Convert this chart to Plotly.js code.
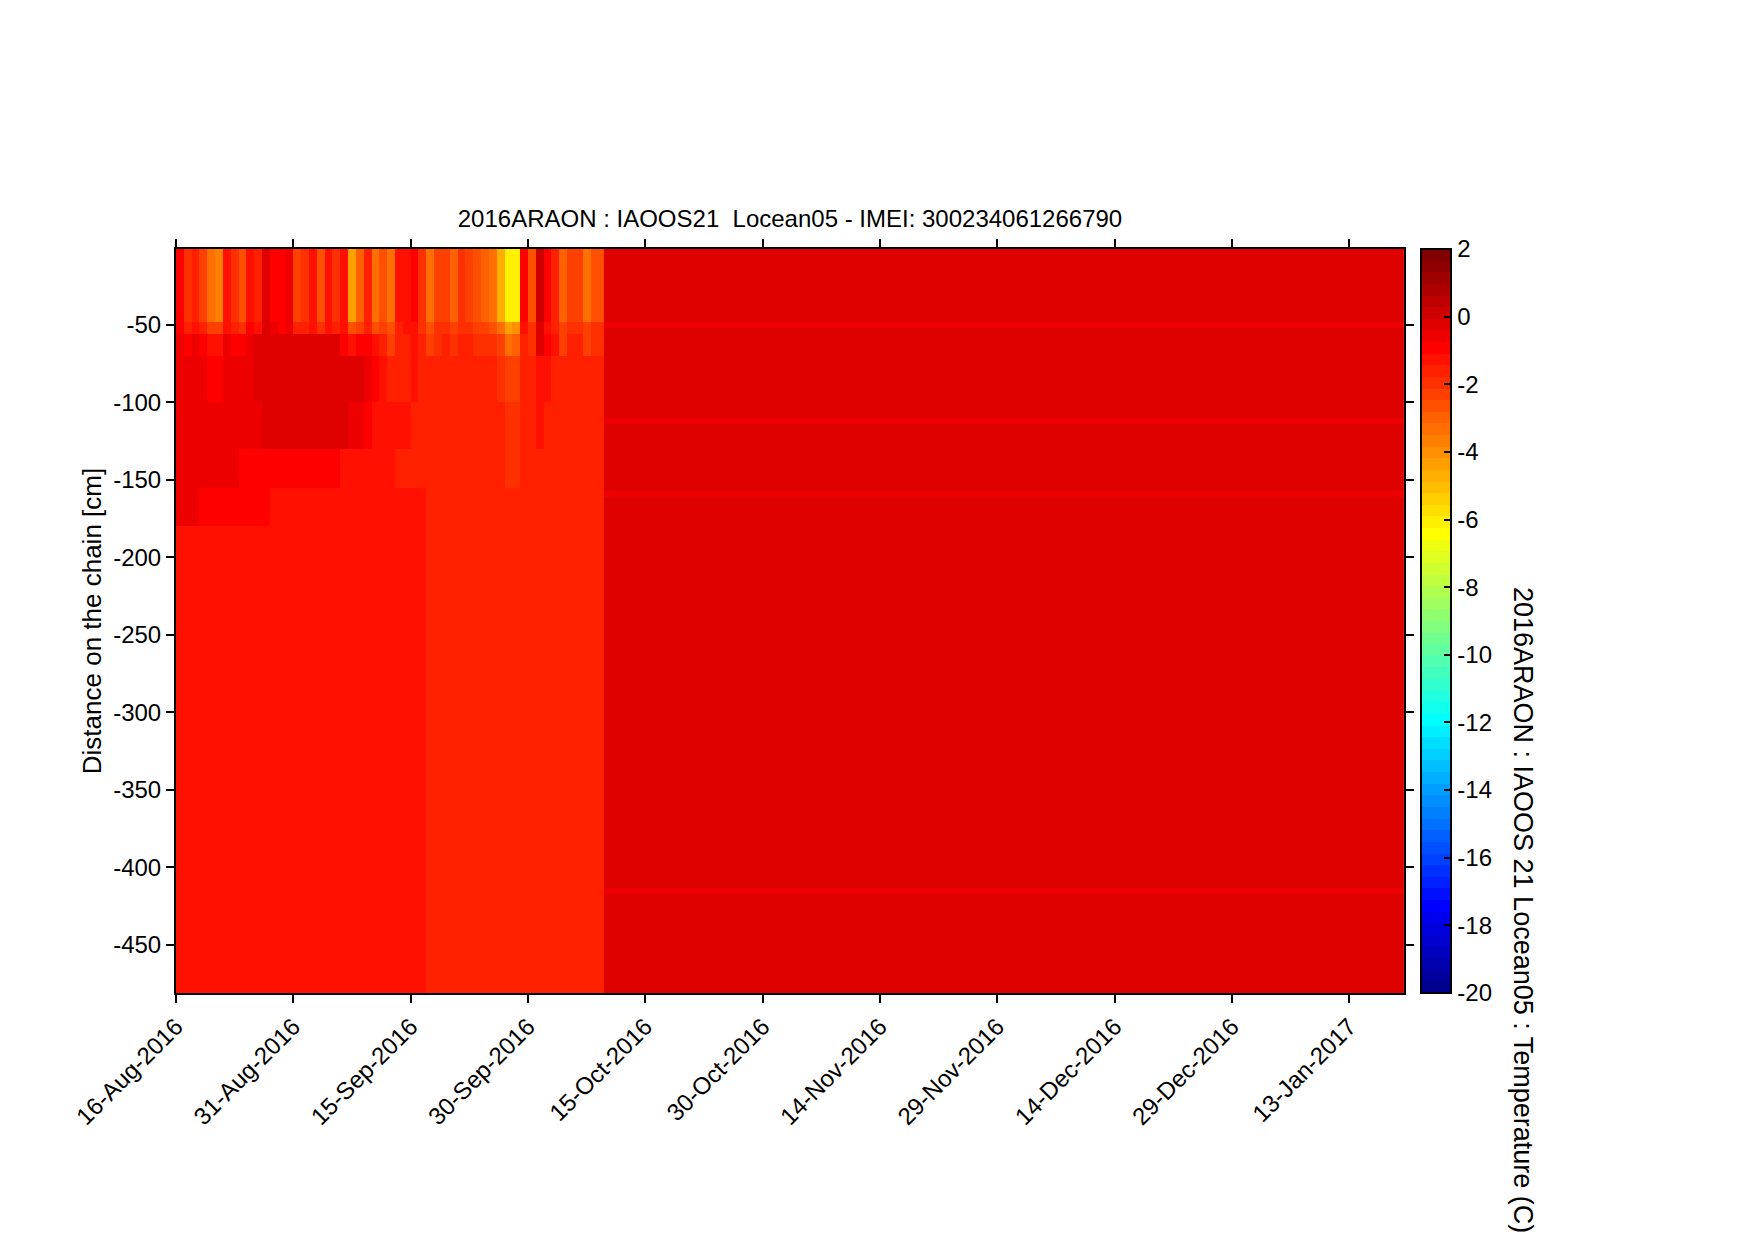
<!DOCTYPE html>
<html>
<head>
<meta charset="utf-8">
<script src="https://cdn.plot.ly/plotly-3.0.1.min.js"></script>
<style>html,body{margin:0;padding:0;background:#fff;}</style>
</head>
<body>
<div id="chart" style="width:1756px;height:1243px;"></div>
<script>
// ---------- DATA (temperatures in °C) ----------
// Daily columns from 16-Aug-2016 (day 0) to 9-Oct-2016 (day 54, partial)
const firstDay = '2016-08-16';
const lastDataEnd = '2016-10-09 17:00';
const lateEnd = '2017-01-20';

// depth layer edges (cm), bottom to top
const depthEdges = [-481, -180, -155, -130, -100, -70, -56, -48, -1];

// layer -1 .. -48 cm (surface stripes)
const surface = [-1.0, -2.0, -1.5, -2.2, -3.3, -3.6, -1.3, -2.0, -2.8, -1.2,
  -1.5, -0.3, -0.8, -1.0, -0.5, -2.2, -2.0, -1.4, -2.8, -1.3,
  -1.8, -1.4, -4.2, -3.0, -1.6, -3.5, -2.6, -3.5, -1.4, -1.2,
  -1.0, -1.8, -3.3, -2.2, -2.3, -3.0, -2.0, -2.2, -2.8, -3.0,
  -3.3, -4.6, -6.2, -6.0, -1.0, -2.5, 0.0, -1.0, -1.6, -3.0,
  -2.3, -2.4, -3.2, -2.6, -2.5];
// layer -48 .. -56 cm
const t52 = [-1.0, -1.6, -1.3, -1.7, -2.3, -2.4, -1.1, -1.6, -2.0, -1.0,
  -1.2, -0.3, -0.6, -0.8, -0.5, -1.7, -1.6, -1.3, -2.0, -1.3,
  -1.6, -1.4, -2.8, -2.3, -1.6, -2.6, -2.2, -2.6, -1.5, -1.4,
  -1.3, -1.8, -2.5, -2.0, -2.0, -2.4, -1.9, -2.0, -2.3, -2.4,
  -2.5, -3.3, -4.5, -4.0, -1.2, -2.0, -0.3, -1.1, -1.6, -2.3,
  -2.0, -2.0, -2.4, -2.1, -2.0];
// layer -56 .. -70 cm
const t60 = [-0.7, -1.0, -0.7, -1.0, -1.3, -1.2, -0.6, -0.9, -1.0, -0.6,
  -0.4, -0.1, -0.2, -0.3, -0.2, -0.3, -0.3, -0.3, -0.4, -0.3,
  -0.4, -0.8, -1.2, -1.0, -0.9, -1.4, -1.7, -2.3, -1.6, -1.5,
  -1.4, -1.6, -2.3, -1.8, -1.7, -1.9, -1.7, -1.7, -1.9, -1.9,
  -2.0, -2.4, -3.2, -3.0, -1.6, -1.8, -0.4, -0.8, -1.4, -2.2,
  -1.7, -1.7, -2.2, -1.9, -1.8];
// layer -70 .. -100 cm
const t85 = [-0.6, -0.7, -0.6, -0.7, -0.8, -0.8, -0.6, -0.6, -0.6, -0.5,
  -0.2, -0.2, -0.1, -0.2, -0.2, -0.2, -0.2, -0.3, -0.3, -0.3,
  -0.3, -0.35, -0.35, -0.35, -0.6, -0.9, -1.3, -1.6, -1.5, -1.5,
  -1.4, -1.5, -1.7, -1.6, -1.6, -1.7, -1.6, -1.6, -1.7, -1.7,
  -1.7, -1.9, -2.4, -2.2, -1.6, -1.6, -1.2, -1.3, -1.5, -1.7,
  -1.6, -1.6, -1.7, -1.6, -1.6];
// layer -100 .. -130 cm
const t115 = [-0.6, -0.6, -0.6, -0.6, -0.7, -0.7, -0.6, -0.6, -0.6, -0.5,
  -0.5, -0.35, -0.35, -0.35, -0.35, -0.35, -0.35, -0.35, -0.35, -0.35,
  -0.35, -0.35, -0.5, -0.7, -0.9, -1.1, -1.2, -1.3, -1.3, -1.3,
  -1.5, -1.5, -1.6, -1.5, -1.5, -1.6, -1.5, -1.5, -1.6, -1.6,
  -1.6, -1.7, -2.0, -1.9, -1.6, -1.6, -1.4, -1.5, -1.5, -1.6,
  -1.6, -1.5, -1.6, -1.6, -1.5];
// layer -130 .. -155 cm
const t140 = [-0.6, -0.6, -0.6, -0.6, -0.7, -0.7, -0.7, -0.7, -0.8, -0.8,
  -0.8, -0.8, -0.8, -0.8, -0.9, -0.9, -0.9, -0.9, -1.0, -1.0,
  -1.0, -1.1, -1.1, -1.2, -1.3, -1.3, -1.4, -1.4, -1.5, -1.5,
  -1.5, -1.5, -1.6, -1.5, -1.5, -1.6, -1.5, -1.5, -1.6, -1.6,
  -1.6, -1.6, -1.8, -1.8, -1.6, -1.6, -1.5, -1.5, -1.5, -1.6,
  -1.6, -1.5, -1.6, -1.6, -1.5];
// layer -155 .. -180 cm
const t170 = [-0.6, -0.7, -0.7, -0.8, -0.9, -0.9, -0.9, -1.0, -1.0, -1.0,
  -1.0, -1.0, -1.1, -1.1, -1.2, -1.2, -1.2, -1.2, -1.2, -1.2,
  -1.2, -1.2, -1.2, -1.2, -1.2, -1.2, -1.3, -1.3, -1.3, -1.4,
  -1.4, -1.4, -1.6, -1.6, -1.6, -1.6, -1.6, -1.6, -1.6, -1.6,
  -1.6, -1.6, -1.7, -1.7, -1.6, -1.6, -1.6, -1.6, -1.6, -1.6,
  -1.6, -1.6, -1.6, -1.6, -1.6];
// layer -180 .. -481 cm
const deep = [-1.2, -1.2, -1.2, -1.2, -1.2, -1.2, -1.2, -1.2, -1.2, -1.2,
  -1.2, -1.2, -1.2, -1.2, -1.2, -1.2, -1.2, -1.2, -1.2, -1.2,
  -1.2, -1.2, -1.2, -1.2, -1.2, -1.2, -1.3, -1.3, -1.3, -1.3,
  -1.3, -1.3, -1.6, -1.6, -1.6, -1.6, -1.6, -1.6, -1.6, -1.6,
  -1.6, -1.6, -1.6, -1.6, -1.6, -1.6, -1.6, -1.6, -1.6, -1.6,
  -1.6, -1.6, -1.6, -1.6, -1.6];

// late period (9-Oct-2016 onwards): uniform with a few thin sensor lines
const lateDepthEdges = [-481, -417, -413, -161, -157, -114, -110, -52, -48, -1];
const lateValues = [-0.25, -0.6, -0.25, -0.6, -0.25, -0.6, -0.25, -0.6, -0.25];

// axis ticks
const xTickVals = ['2016-08-16','2016-08-31','2016-09-15','2016-09-30','2016-10-15','2016-10-30',
  '2016-11-14','2016-11-29','2016-12-14','2016-12-29','2017-01-13'];
const xTickText = ['16-Aug-2016','31-Aug-2016','15-Sep-2016','30-Sep-2016','15-Oct-2016','30-Oct-2016',
  '14-Nov-2016','29-Nov-2016','14-Dec-2016','29-Dec-2016','13-Jan-2017'];
const yTickVals = [-50, -100, -150, -200, -250, -300, -350, -400, -450];
const yTickText = ['-50', '-100', '-150', '-200', '-250', '-300', '-350', '-400', '-450'];
const cbTickVals = [-20, -18, -16, -14, -12, -10, -8, -6, -4, -2, 0, 2];
const cbTickText = ['-20', '-18', '-16', '-14', '-12', '-10', '-8', '-6', '-4', '-2', '0', '2'];

const titleText = '2016ARAON : IAOOS21  Locean05 - IMEI: 300234061266790';
const yTitleText = 'Distance on the chain [cm]';
const cbTitleText = '2016ARAON : IAOOS 21 Locean05 : Temperature (C)';

// ---------- build ----------
// daily column edges
const xEdges = [];
const base = new Date(firstDay + 'T00:00:00Z');
for (let d = 0; d < surface.length; d++) {
  const dt = new Date(base.getTime() + d * 86400000);
  xEdges.push(dt.toISOString().slice(0, 10));
}
xEdges.push(lastDataEnd);

const zEarly = [deep, t170, t140, t115, t85, t60, t52, surface];
const zLate = lateValues.map(v => [v]);

// MATLAB-style jet(64), discrete
function jetScale() {
  const m = 16, u = [];
  for (let j = 1; j <= m; j++) u.push(j / m);
  for (let j = 0; j < m - 1; j++) u.push(1);
  for (let j = m; j >= 1; j--) u.push(j / m);
  const get = k => (k >= 1 && k <= u.length) ? u[k - 1] : 0;
  const cs = [];
  for (let i = 1; i <= 64; i++) {
    const r = Math.round(255 * get(i - 24));
    const g = Math.round(255 * get(i - 8));
    const b = Math.round(255 * get(i + 8));
    const c = 'rgb(' + r + ',' + g + ',' + b + ')';
    cs.push([(i - 1) / 64, c]);
    cs.push([i / 64, c]);
  }
  return cs;
}
const cscale = jetScale();

const ZMIN = -20, ZMAX = 2;
const F = 'Liberation Sans, Arial, Helvetica, sans-serif';

const traces = [
  {
    type: 'heatmap', x: xEdges, y: depthEdges, z: zEarly,
    zmin: ZMIN, zmax: ZMAX, colorscale: cscale, zsmooth: false,
    showscale: true,
    colorbar: {
      x: 1.0138, xanchor: 'left', xref: 'paper',
      y: 0.5, yanchor: 'middle', len: 1, lenmode: 'fraction',
      thickness: 30, thicknessmode: 'pixels', xpad: 0, ypad: 0,
      outlinewidth: 2, outlinecolor: '#000',
      tickmode: 'array', tickvals: cbTickVals, ticktext: cbTickText,
      ticks: 'inside', ticklen: 8, tickwidth: 2, tickcolor: '#000',
      tickfont: {family: F, size: 24, color: '#000'}
    }
  },
  {
    type: 'heatmap', x: [lastDataEnd, lateEnd], y: lateDepthEdges, z: zLate,
    zmin: ZMIN, zmax: ZMAX, colorscale: cscale, zsmooth: false,
    showscale: false
  }
];

const layout = {
  width: 1756, height: 1243,
  margin: {l: 176, r: 352, t: 249, b: 250, pad: 0},
  paper_bgcolor: '#fff', plot_bgcolor: '#fff',
  font: {family: F, size: 24, color: '#000'},
  title: {
    text: titleText, x: 0.5, xref: 'paper', xanchor: 'center',
    y: 1 - 219 / 1243, yref: 'container', yanchor: 'middle',
    font: {family: F, size: 24, color: '#000'}
  },
  xaxis: {
    type: 'date', range: ['2016-08-16', lateEnd],
    tickmode: 'array', tickvals: xTickVals, ticktext: xTickText, tickangle: -45,
    ticks: 'outside', ticklen: 8, tickwidth: 2, tickcolor: '#000',
    showline: true, linewidth: 2, linecolor: '#000', mirror: 'ticks',
    showgrid: false, zeroline: false,
    tickfont: {family: F, size: 24, color: '#000'}
  },
  yaxis: {
    range: [-481, -1],
    tickmode: 'array', tickvals: yTickVals, ticktext: yTickText,
    ticks: 'outside', ticklen: 8, tickwidth: 2, tickcolor: '#000',
    showline: true, linewidth: 2, linecolor: '#000', mirror: 'ticks',
    showgrid: false, zeroline: false,
    tickfont: {family: F, size: 24, color: '#000'},
    title: {text: yTitleText, standoff: 4, font: {family: F, size: 26, color: '#000'}}
  },
  annotations: [{
    text: cbTitleText, textangle: 90, showarrow: false,
    xref: 'paper', yref: 'paper', x: 1.0969, y: 0.1116,
    xanchor: 'center', yanchor: 'middle',
    font: {family: F, size: 27, color: '#000'}
  }]
};

Plotly.newPlot('chart', traces, layout, {displayModeBar: false, staticPlot: true});
</script>
</body>
</html>
